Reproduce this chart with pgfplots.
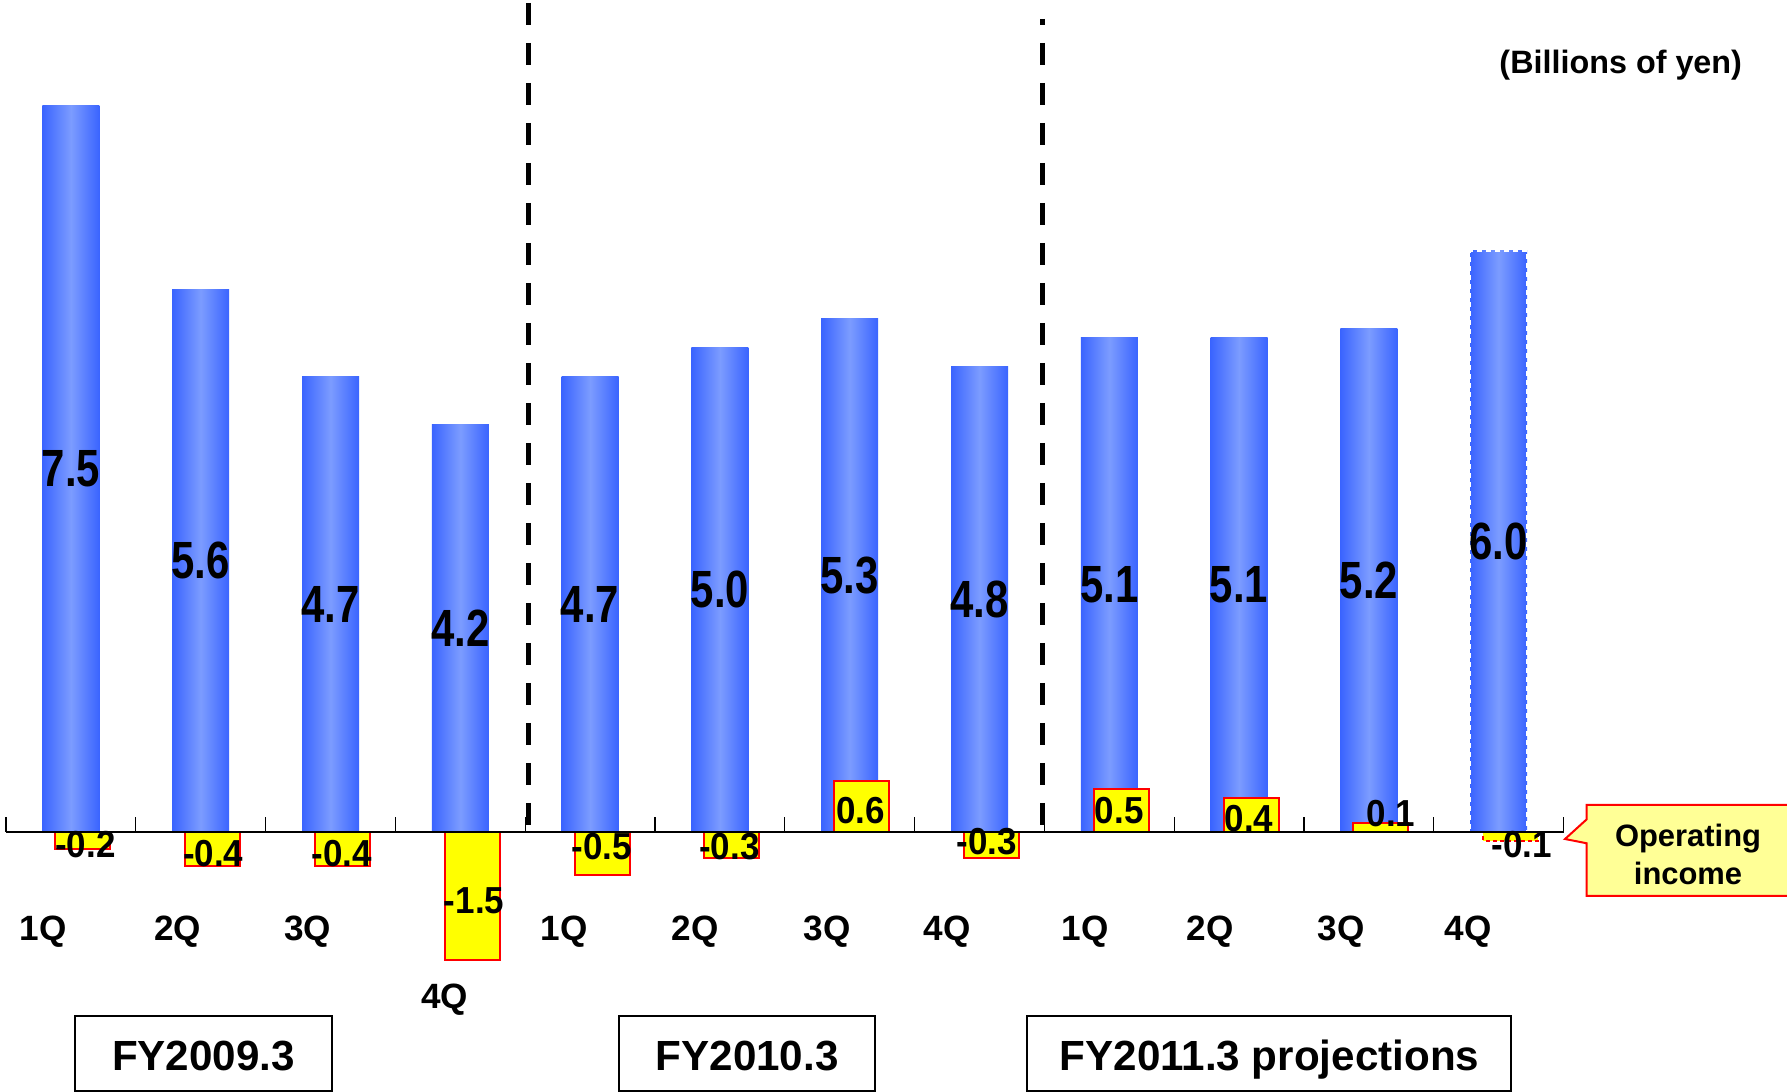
\documentclass[border=0pt]{standalone}
\usepackage{pgfplots}
\pgfplotsset{compat=1.18}
\usepackage{pgfplotstable}
\usepackage{fontspec}
\setmainfont{Liberation Sans}
\newfontfamily\bnum[FakeStretch=0.8]{Liberation Sans Bold}
\newfontfamily\ynum[FakeStretch=0.93]{Liberation Sans Bold}

\definecolor{bedge}{RGB}{58,100,255}
\definecolor{bmid}{RGB}{124,156,255}
\definecolor{callfill}{RGB}{255,255,150}
\definecolor{ylw}{RGB}{255,255,0}
\definecolor{rd}{RGB}{255,0,0}

% Net sales (blue), billions of yen
\pgfplotstableread{
i v
0 7.5
1 5.6
2 4.7
3 4.2
4 4.7
5 5.0
6 5.3
7 4.8
8 5.1
9 5.1
10 5.2
}\bluedata
\pgfplotstableread{
i v
11 6.0
}\bluefcst
% Operating income (yellow)
\pgfplotstableread{
i v
0 -0.2
1 -0.4
2 -0.4
3 -1.5
4 -0.5
5 -0.3
6 0.6
7 -0.3
8 0.5
9 0.4
10 0.1
}\ylwdata
\pgfplotstableread{
i v
11 -0.1
}\ylwfcst
\pgfplotstableread{
lx ly t
0.112 -0.152 -0.2
1.096 -0.25 -0.4
2.088 -0.25 -0.4
3.106 -0.80 -1.5
4.09 -0.176 -0.5
5.073 -0.176 -0.3
6.083 0.246 0.6
7.058 -0.113 -0.3
8.076 0.246 0.5
9.077 0.16 0.4
10.17 0.217 0.1
11.177 -0.152 -0.1
}\ylwlabels

\pgfplotsset{base/.style={scale only axis, width=178.7mm, height=109.2mm,
  at={(0,0)}, anchor=south west, xmin=-0.54622, xmax=13.2211,
  hide axis, clip=false}}

\begin{document}
\begin{tikzpicture}
% blue bars, one plot per bar so that each bar gets its own gradient
\begin{axis}[base, ymin=-2.6832, ymax=8.5862]
\pgfplotsinvokeforeach{0,...,10}{
\addplot[ybar, bar width=5.7mm, bar shift=0pt, draw=none,
  left color=bedge, right color=bedge, middle color=bmid,
  unbounded coords=discard,
  x filter/.expression={abs(x-#1)<0.3 ? x : nan}]
  table[x=i,y=v]{\bluedata};
}
\addplot[ybar, bar width=5.7mm, bar shift=0pt, draw=white, line width=0.2mm,
  dash pattern=on 0.5mm off 0.4mm,
  left color=bedge, right color=bedge, middle color=bmid]
  table[x=i,y=v]{\bluefcst};
\end{axis}
% yellow bars
\begin{axis}[base, ymin=-3.0445, ymax=9.7424]
\addplot[ybar, bar width=5.5mm, bar shift=1.2mm, fill=ylw, draw=rd, line width=0.2mm]
  table[x=i,y=v]{\ylwdata};
\addplot[ybar, bar width=5.5mm, bar shift=1.2mm, fill=ylw, draw=rd, line width=0.2mm,
  dash pattern=on 0.4mm off 0.3mm]
  table[x=i,y=v]{\ylwfcst};
\end{axis}
% decorations (1 unit = 1 px of the reference, y downward)
\begin{scope}[x=0.1mm, y=-0.1mm, shift={(0,109.2mm)}]
\draw[line width=0.22mm] (6,832) -- (1564,832);
\foreach \k in {0,...,12} \draw[line width=0.12mm] ({6+129.8*\k},832) -- ++(0,-15);
\draw[line width=0.5mm, dash pattern=on 2.2mm off 1.8mm] (528,3) -- (528,825);
\draw[line width=0.5mm, dash pattern=on 2.2mm off 1.8mm, dash phase=1.6mm] (1042.7,19) -- (1042.7,825);
% period boxes
\draw[line width=0.2mm] (75.2,1015.7) rectangle (331.7,1091);
\draw[line width=0.2mm] (618.9,1015.7) rectangle (875.3,1091);
\draw[line width=0.2mm] (1026.9,1015.7) rectangle (1511.2,1091);
\node[anchor=base, inner sep=0pt, font=\bfseries\fontsize{12}{14}\selectfont] at (203.5,1070) {FY2009.3};
\node[anchor=base, inner sep=0pt, font=\bfseries\fontsize{12}{14}\selectfont] at (747.1,1070) {FY2010.3};
\node[anchor=base, inner sep=0pt, font=\bfseries\fontsize{12}{14}\selectfont] at (1269.5,1070) {FY2011.3 projections};
% quarter labels
\foreach \x/\y/\t in {43.3/940.5/1Q, 177.8/940.5/2Q, 307.7/940.5/3Q, 444.5/1008/4Q,
  564.1/940.5/1Q, 695.2/940.5/2Q, 827.4/940.5/3Q, 947.1/940.5/4Q,
  1085/940.5/1Q, 1210.3/940.5/2Q, 1341.4/940.5/3Q, 1467.9/940.5/4Q}
  \node[anchor=base, inner sep=0pt, font=\bfseries\fontsize{10}{12}\selectfont] at (\x,\y) {\t};
% unit
\node[anchor=base, inner sep=0pt, font=\bfseries\fontsize{9.2}{11}\selectfont] at (1620.7,74) {(Billions of yen)};
% callout
\draw[draw=rd, fill=callfill, line width=0.2mm] (1586.7,805) -- (1800,805) -- (1800,896) -- (1586.7,896)
  -- (1586.7,843.3) -- (1565,839) -- (1586.7,819.3) -- cycle;
\node[anchor=base, inner sep=0pt, font=\bfseries\fontsize{8.8}{10}\selectfont] at (1688,846.7) {Operating};
\node[anchor=base, inner sep=0pt, font=\bfseries\fontsize{8.8}{10}\selectfont] at (1688,884.3) {income};
\end{scope}
% blue value labels
\begin{axis}[base, ymin=-2.6832, ymax=8.5862]
\addplot[only marks, mark=none, nodes near coords, point meta=explicit symbolic,
  nodes near coords style={anchor=center, inner sep=0pt, text=black,
  font=\bnum\fontsize{14.9}{16}\selectfont}]
  table[x=i, y expr=\thisrow{v}/2, meta=v]{\bluedata};
\addplot[only marks, mark=none, nodes near coords, point meta=explicit symbolic,
  nodes near coords style={anchor=center, inner sep=0pt, text=black,
  font=\bnum\fontsize{14.9}{16}\selectfont}]
  table[x=i, y expr=\thisrow{v}/2, meta=v]{\bluefcst};
\end{axis}
% yellow value labels
\begin{axis}[base, ymin=-3.0445, ymax=9.7424]
\addplot[only marks, mark=none, nodes near coords, point meta=explicit symbolic,
  nodes near coords style={anchor=center, inner sep=0pt, text=black,
  font=\ynum\fontsize{10.7}{12}\selectfont}]
  table[x=lx, y=ly, meta=t]{\ylwlabels};
\end{axis}
\pgfresetboundingbox
\useasboundingbox (0,0) rectangle (178.7mm,109.2mm);
\end{tikzpicture}
\end{document}
